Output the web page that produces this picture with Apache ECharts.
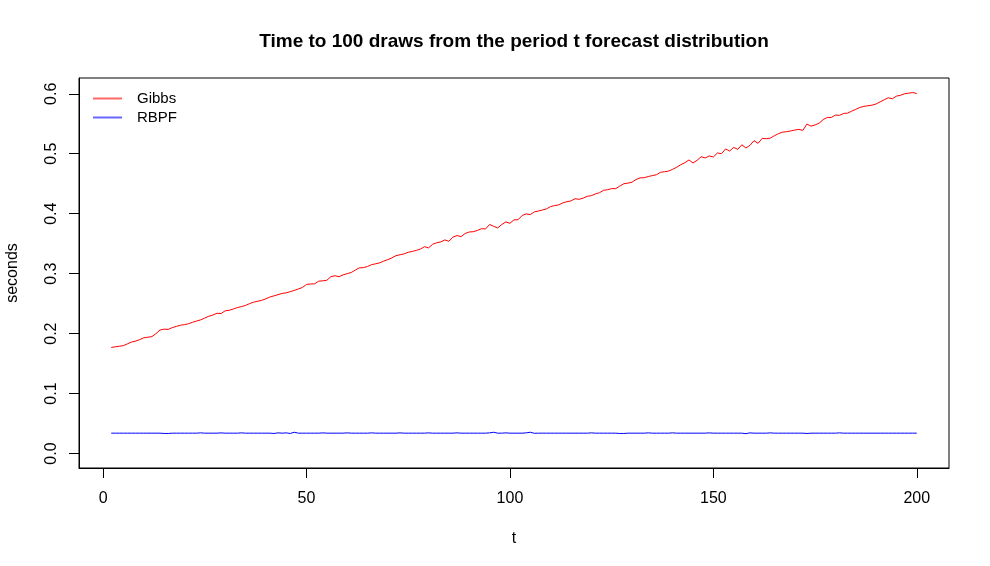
<!DOCTYPE html>
<html>
<head>
<meta charset="utf-8">
<script src="https://cdn.jsdelivr.net/npm/echarts@6/dist/echarts.min.js"></script>
<style>
html,body{margin:0;padding:0;background:#fff;}
#chart{width:990px;height:566px;}
</style>
</head>
<body>
<div id="chart"></div>
<script>
// ---- data ----
var tFirst = 2, tLast = 200;
var tValues = [];
for (var k = tFirst; k <= tLast; k++) tValues.push(k);

var gibbs = [
0.177,0.178,0.179,0.180,0.183,0.186,0.1875,0.190,0.193,0.194,
0.195,0.200,0.206,0.2075,0.207,0.210,0.212,0.214,0.215,0.2165,
0.219,0.221,0.223,0.226,0.229,0.231,0.234,0.2335,0.238,0.239,
0.241,0.2435,0.245,0.247,0.250,0.2525,0.254,0.2555,0.258,0.261,
0.263,0.265,0.267,0.268,0.270,0.272,0.2745,0.277,0.282,0.2828,
0.283,0.2875,0.288,0.289,0.295,0.2965,0.295,0.298,0.300,0.302,
0.306,0.3097,0.310,0.312,0.315,0.3165,0.318,0.321,0.3235,0.3263,
0.330,0.3315,0.333,0.3357,0.337,0.3388,0.341,0.345,0.343,0.349,
0.3515,0.353,0.3563,0.354,0.361,0.3635,0.3618,0.367,0.3695,0.370,
0.372,0.375,0.3745,0.382,0.379,0.3763,0.382,0.3863,0.384,0.3897,
0.390,0.397,0.3997,0.3985,0.403,0.4045,0.4062,0.408,0.412,0.4135,
0.4147,0.418,0.420,0.4213,0.425,0.424,0.426,0.429,0.430,0.433,
0.435,0.439,0.440,0.4418,0.4418,0.446,0.450,0.451,0.4525,0.457,
0.4597,0.460,0.462,0.4635,0.465,0.469,0.470,0.471,0.474,0.4775,
0.4818,0.485,0.4896,0.4846,0.489,0.495,0.493,0.4963,0.4946,0.5013,
0.500,0.508,0.5045,0.5106,0.5073,0.515,0.5096,0.514,0.5218,0.5173,
0.5256,0.525,0.526,0.530,0.5335,0.536,0.5367,0.538,0.5395,0.5406,
0.539,0.5495,0.546,0.548,0.551,0.557,0.5605,0.5605,0.5645,0.564,
0.5672,0.5678,0.571,0.574,0.5772,0.579,0.580,0.581,0.583,0.5865,
0.590,0.5933,0.5917,0.596,0.5975,0.600,0.601,0.602,0.6005
];

var rbpf = [
0.034,0.034,0.034,0.034,0.034,0.034,0.034,0.034,0.034,0.034,
0.034,0.034,0.034,0.0335,0.0335,0.034,0.034,0.034,0.034,0.034,
0.034,0.034,0.0345,0.034,0.034,0.034,0.034,0.0345,0.034,0.034,
0.034,0.034,0.0345,0.034,0.034,0.034,0.034,0.034,0.034,0.034,
0.0335,0.0345,0.034,0.0345,0.0335,0.0355,0.034,0.034,0.034,0.034,
0.034,0.034,0.0345,0.034,0.034,0.034,0.034,0.034,0.0345,0.034,
0.034,0.034,0.034,0.034,0.0345,0.034,0.034,0.034,0.034,0.034,
0.034,0.0345,0.034,0.034,0.034,0.034,0.034,0.034,0.0345,0.034,
0.034,0.034,0.034,0.034,0.034,0.0345,0.034,0.034,0.034,0.034,
0.034,0.034,0.034,0.0345,0.0355,0.034,0.034,0.0345,0.034,0.034,
0.034,0.034,0.0345,0.0355,0.0338,0.034,0.034,0.034,0.034,0.034,
0.034,0.034,0.034,0.034,0.034,0.034,0.034,0.034,0.0345,0.034,
0.034,0.034,0.034,0.034,0.034,0.0335,0.0335,0.034,0.034,0.034,
0.034,0.034,0.0345,0.034,0.034,0.034,0.034,0.034,0.0345,0.034,
0.034,0.034,0.034,0.034,0.034,0.034,0.034,0.0345,0.034,0.034,
0.034,0.034,0.034,0.034,0.034,0.034,0.0332,0.0345,0.034,0.034,
0.034,0.034,0.0345,0.034,0.034,0.034,0.034,0.034,0.034,0.034,
0.034,0.0335,0.034,0.034,0.034,0.034,0.034,0.034,0.034,0.0345,
0.034,0.034,0.034,0.034,0.034,0.034,0.034,0.034,0.034,0.034,
0.034,0.034,0.034,0.034,0.034,0.034,0.034,0.034,0.034
];

var xTicks = [0, 50, 100, 150, 200];
var yTicks = [0, 0.1, 0.2, 0.3, 0.4, 0.5, 0.6];
var seriesNames = ['Gibbs', 'RBPF'];
var seriesColors = ['#ff0000', '#0000ff'];
var titleText = 'Time to 100 draws from the period t forecast distribution';

// ---- chart ----
var FONT = '"Liberation Sans", Arial, Helvetica, sans-serif';
function pairs(vals) { return tValues.map(function (t, i) { return [t, vals[i]]; }); }

var chart = echarts.init(document.getElementById('chart'), null, { renderer: 'canvas' });
chart.setOption({
  animation: false,
  backgroundColor: '#ffffff',
  textStyle: { fontFamily: FONT },
  title: {
    text: titleText,
    left: 514, top: 32, textAlign: 'center', padding: 0,
    textStyle: { fontFamily: FONT, fontSize: 19, fontWeight: 'bold', color: '#000' }
  },
  legend: {
    data: seriesNames.map(function (n, i) {
      return { name: n, icon: 'rect', itemStyle: { color: seriesColors[i], opacity: 0.6, borderWidth: 0 } };
    }),
    orient: 'vertical',
    left: 93, top: 91,
    itemWidth: 29, itemHeight: 2, itemGap: 4,
    padding: 0,
    textStyle: { fontFamily: FONT, fontSize: 15, color: '#000', padding: [0, 0, 0, 10] }
  },
  grid: {
    left: 79, top: 78, right: 41, bottom: 98,
    containLabel: false, outerBoundsMode: 'none',
    show: true, borderColor: '#000', borderWidth: 1, backgroundColor: 'transparent'
  },
  xAxis: {
    type: 'value', min: -5.92, max: 207.92,
    name: 't', nameLocation: 'middle', nameGap: 63,
    nameTextStyle: { fontFamily: FONT, fontSize: 16, color: '#000' },
    axisLine: { show: true, onZero: false, lineStyle: { color: '#000', width: 1 } },
    axisTick: { show: true, length: 10, customValues: xTicks, lineStyle: { color: '#000' } },
    axisLabel: { customValues: xTicks, margin: 23, fontFamily: FONT, fontSize: 16, color: '#000' },
    splitLine: { show: false }
  },
  yAxis: {
    type: 'value', min: -0.0241, max: 0.6263,
    name: 'seconds', nameLocation: 'middle', nameGap: 58,
    nameTextStyle: { fontFamily: FONT, fontSize: 16, color: '#000' },
    axisLine: { show: true, onZero: false, lineStyle: { color: '#000', width: 1 } },
    axisTick: { show: true, length: 10, customValues: yTicks, lineStyle: { color: '#000' } },
    axisLabel: {
      customValues: yTicks, margin: 19, rotate: 90, fontFamily: FONT, fontSize: 16, color: '#000',
      formatter: function (v) { return v.toFixed(1); }
    },
    splitLine: { show: false }
  },
  series: [
    {
      name: seriesNames[0], type: 'line', data: pairs(gibbs),
      symbol: 'none', showSymbol: false,
      lineStyle: { color: seriesColors[0], width: 1 }, itemStyle: { color: seriesColors[0] }
    },
    {
      name: seriesNames[1], type: 'line', data: pairs(rbpf),
      symbol: 'none', showSymbol: false,
      lineStyle: { color: seriesColors[1], width: 1 }, itemStyle: { color: seriesColors[1] }
    }
  ]
});
</script>
</body>
</html>
